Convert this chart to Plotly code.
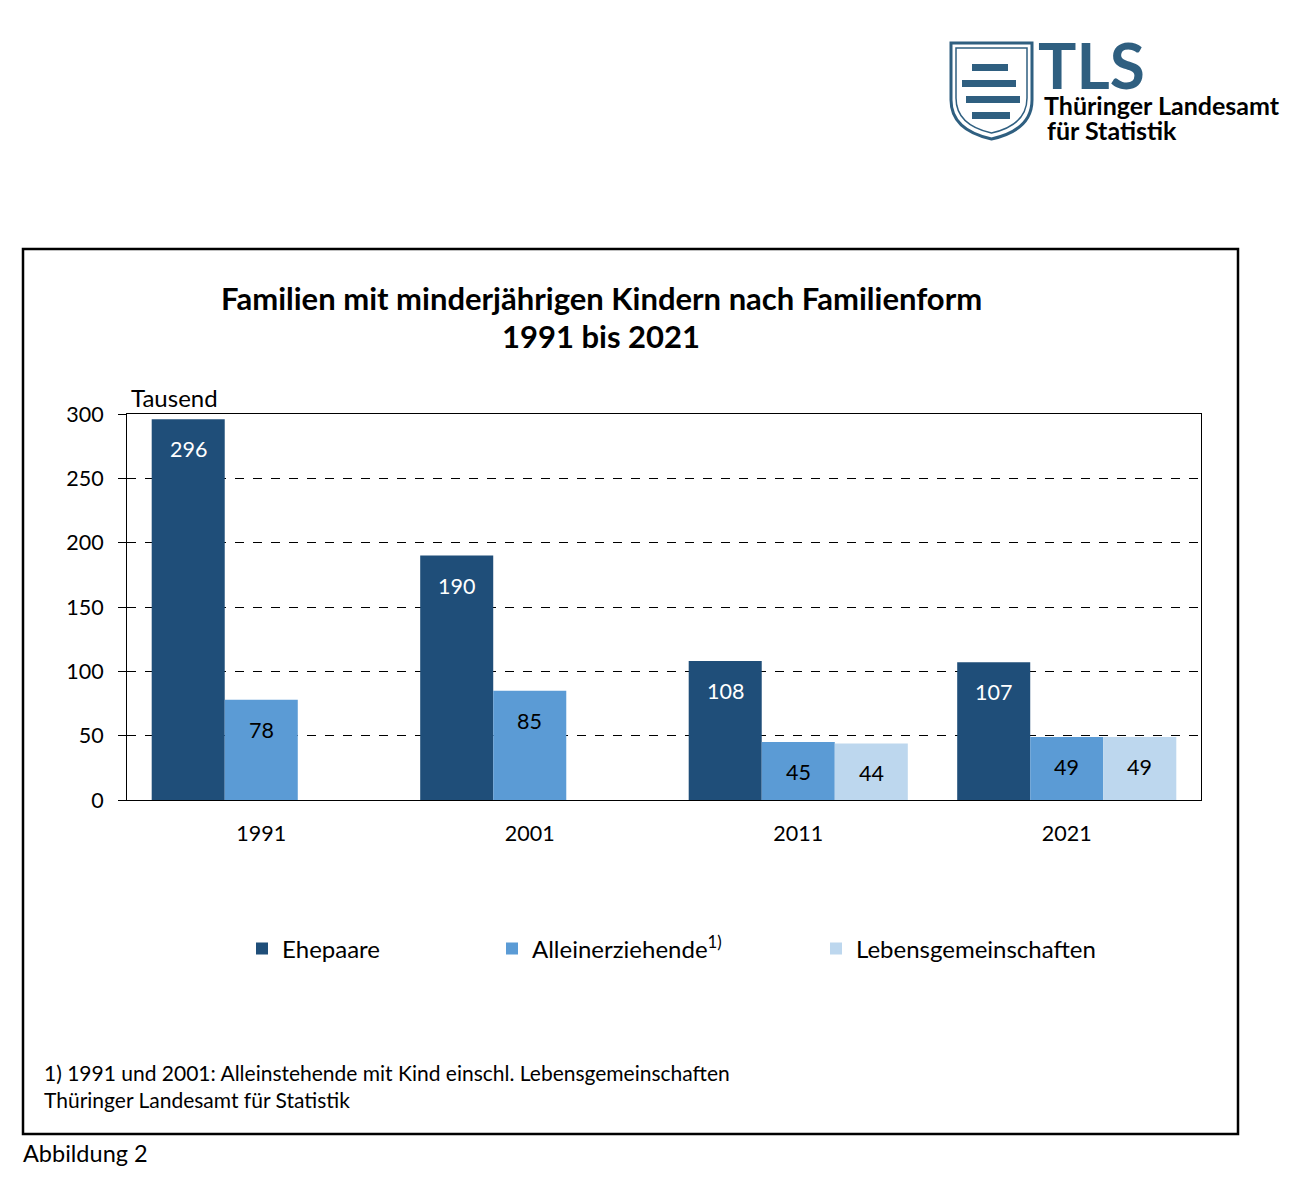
import plotly.graph_objects as go

# data (Tausend)
years = ["1991", "2001", "2011", "2021"]
ehepaare = [296, 190, 108, 107]
alleinerziehende = [78, 85, 45, 49]
lebensgemeinschaften = [None, None, 44, 49]

series_names = ["Ehepaare", "Alleinerziehende<sup>1)</sup>", "Lebensgemeinschaften"]
series_values = [ehepaare, alleinerziehende, lebensgemeinschaften]
colors = ["#1f4e79", "#5b9bd5", "#bdd7ee"]
label_colors = ["white", "black", "black"]

y_ticks = [0, 50, 100, 150, 200, 250, 300]

FONT = "Lato"
OFF = 8  # page body margin
W, H = 1296 - OFF, 1179 - OFF
# plot area in screen pixels
L, R, T, B = 127, 1201, 414, 800


def px(x):
    return (x - L) / (R - L)


def py(y):
    return (B - y) / (B - T)


fig = go.Figure()
legend_keys = ["legend", "legend2", "legend3"]
for name, vals, col, lk in zip(series_names, series_values, colors, legend_keys):
    fig.add_trace(go.Bar(
        x=years, y=vals, name=name, marker=dict(color=col, line_width=0),
        legend=lk, hoverinfo="x+y",
    ))

# value labels placed just below the top of each bar
bar_px = (R - L) / len(years) * (1 - 0.184) / 3
annotations = []
for i, (vals, tc) in enumerate(zip(series_values, label_colors)):
    for j, v in enumerate(vals):
        if v is None:
            continue
        annotations.append(dict(
            x=j, y=v, xref="x", yref="y", text=str(v), showarrow=False,
            xshift=(i - 1) * bar_px, yshift=-30,
            font=dict(family=FONT, size=21.5, color=tc),
        ))


# titles, unit, footnotes
def txt(x, y, s, size, anchor="left", bold=False, color="black"):
    annotations.append(dict(
        x=px(x), y=py(y), xref="paper", yref="paper", text=s, showarrow=False,
        xanchor=anchor, yanchor="middle",
        font=dict(family=FONT, size=size, color=color, weight="bold" if bold else "normal"),
    ))


txt(601, 298, "Familien mit minderjährigen Kindern nach Familienform", 31, "center", True)
txt(601, 336, "1991 bis 2021", 31, "center", True)
txt(129, 397, "Tausend", 24)
txt(42, 1072, "1) 1991 und 2001: Alleinstehende mit Kind einschl. Lebensgemeinschaften", 21)
txt(42, 1099, "Thüringer Landesamt für Statistik", 21)
txt(21, 1153, "Abbildung 2", 23.5)

# logo text
txt(1036, 65, "TLS", 64, bold=True, color="#2f5f80")
txt(1042, 105, "Thüringer Landesamt", 25, bold=True)
txt(1045, 130, "für Statistik", 25, bold=True)

shapes = [
    # outer frame
    dict(type="rect", xref="paper", yref="paper", x0=px(23), x1=px(1238),
         y0=py(1134), y1=py(249), line=dict(color="black", width=2.5)),
    # shield outline
    dict(type="path", xref="paper", yref="paper",
         path="M {0},{1} L {2},{1} L {2},{3} Q {2},{4} {5},{6} Q {0},{4} {0},{3} Z".format(
             px(951), py(43), px(1032), py(100), py(130), px(991.5), py(139)),
         line=dict(color="#2f5f80", width=3), fillcolor="white"),
    dict(type="path", xref="paper", yref="paper",
         path="M {0},{1} L {2},{1} L {2},{3} Q {2},{4} {5},{6} Q {0},{4} {0},{3} Z".format(
             px(956), py(48), px(1027), py(98), py(125), px(991.5), py(133)),
         line=dict(color="#2f5f80", width=1.5), fillcolor="rgba(0,0,0,0)"),
]
# stylised striped lion inside the shield
for y0, x0, x1 in [(64, 972, 1008), (80, 962, 1016), (96, 966, 1020), (112, 972, 1010)]:
    shapes.append(dict(type="rect", xref="paper", yref="paper",
                       x0=px(x0), x1=px(x1), y0=py(y0 + 7), y1=py(y0),
                       line_width=0, fillcolor="#2f5f80"))

legend_common = dict(orientation="h", yanchor="middle", xanchor="left",
                     font=dict(family=FONT, size=24, color="black"),
                     bgcolor="rgba(0,0,0,0)", itemwidth=30)

fig.update_layout(
    width=W, height=H,
    margin=dict(l=L - OFF, r=W + OFF - R, t=T - OFF, b=H + OFF - B, pad=0),
    paper_bgcolor="white", plot_bgcolor="white",
    barmode="group", bargap=0.184, bargroupgap=0,
    font=dict(family=FONT, size=21.5, color="black"),
    showlegend=True,
    legend=dict(legend_common, x=px(242), y=py(949)),
    legend2=dict(legend_common, x=px(492), y=py(949)),
    legend3=dict(legend_common, x=px(816), y=py(949)),
    annotations=annotations,
    shapes=shapes,
    xaxis=dict(
        type="category", range=[-0.5, 3.5], showline=True, linecolor="black",
        linewidth=1, mirror=True, ticks="", showgrid=False,
        tickfont=dict(family=FONT, size=21.5), ticklabelstandoff=14,
        fixedrange=True,
    ),
    yaxis=dict(
        range=[0, 300], tickvals=y_ticks, showline=True, linecolor="black",
        linewidth=1, mirror=True, ticks="outside", ticklen=8, tickcolor="black",
        showgrid=True, gridcolor="black", gridwidth=1, griddash="dash",
        zeroline=False, tickfont=dict(family=FONT, size=21.5),
        ticklabelstandoff=10, fixedrange=True,
    ),
)

fig.write_html("out.html")
